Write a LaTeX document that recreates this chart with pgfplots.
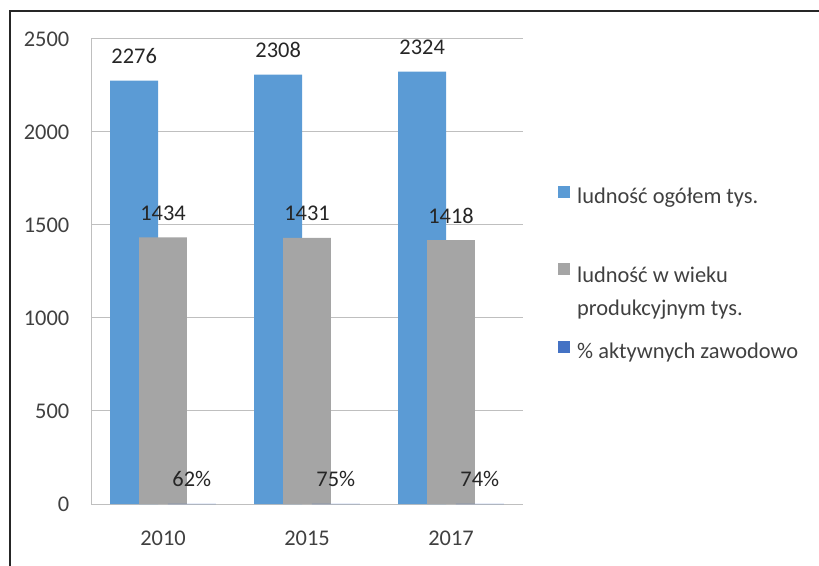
\documentclass[border=0pt]{standalone}
\usepackage{fontspec}
\setmainfont{Carlito}
\usepackage{pgfplots}
\pgfplotsset{compat=1.18}
\pgfkeys{/pgf/number format/assume math mode=true, /pgf/number format/1000 sep={}}
\definecolor{cblue}{HTML}{5B9BD5}
\definecolor{cgray}{HTML}{A5A5A5}
\definecolor{cdblue}{HTML}{4472C4}
\definecolor{gridc}{HTML}{BFBFBF}
\definecolor{txt}{HTML}{404040}
\definecolor{lbl}{HTML}{262626}
\newcommand\ff{\fontsize{22.5}{27}\selectfont}
\begin{document}
\ff
\begin{tikzpicture}
\useasboundingbox (0,0) rectangle (819bp,566bp);
\draw[line width=1.3bp, black!85] (10bp,0) -- (10bp,555bp) -- (819bp,555bp);
\begin{axis}[
  at={(91bp,62bp)}, anchor=south west, scale only axis,
  width=432bp, height=465bp,
  xmin=-0.5, xmax=2.5, ymin=0, ymax=2500,
  xtick={0,1,2}, xticklabels={2010,2015,2017},
  ytick={0,500,...,2500},
  scaled y ticks=false,
  axis lines*=left,
  axis line style={gridc, line width=1bp},
  ymajorgrids, grid style={gridc, line width=1bp},
  major tick length=0pt,
  tick label style={font=\ff, color=txt},
  yticklabel style={xshift=-14bp},
  xticklabel style={yshift=-19bp},
  clip=false,
  nodes near coords,
  nodes near coords style={font=\ff, color=lbl, anchor=base, yshift=17bp, inner sep=0pt},
  legend style={at={(axis description cs:1.081,0.684)}, anchor=north west,
    draw=none, fill=none, inner sep=0pt, row sep=55bp, column sep=7bp,
    nodes={inner sep=0pt}, font=\ff, text=txt},
  legend cell align=left,
]
\addplot[ybar, bar width=0.3333, bar shift=0pt, fill=cblue, draw=none,
  legend image code/.code={\fill[cblue] (0bp,-1bp) rectangle (12bp,11bp);}]
  coordinates {(-0.2,2276) (0.8,2308) (1.8,2324)};
\addlegendentry{ludność ogółem tys.}
\addplot[ybar, bar width=0.3333, bar shift=0pt, fill=cgray, draw=none,
  legend image code/.code={\fill[cgray] (0bp,-1bp) rectangle (12bp,11bp);}]
  coordinates {(0,1434) (1,1431) (2,1418)};
\addlegendentry{\begin{tabular}[t]{@{}l@{}}\rule{0pt}{21bp}ludność w wieku\\[6bp]produkcyjnym tys.\end{tabular}}
\addplot[ybar, bar width=0.3333, bar shift=0pt, fill=cdblue, draw=none,
  point meta=explicit symbolic,
  legend image code/.code={\fill[cdblue] (0bp,-1bp) rectangle (12bp,11bp);}]
  coordinates {(0.2,0.62) [62\%] (1.2,0.75) [75\%] (2.2,0.74) [74\%]};
\addlegendentry{\% aktywnych zawodowo}
\end{axis}
\end{tikzpicture}
\end{document}
